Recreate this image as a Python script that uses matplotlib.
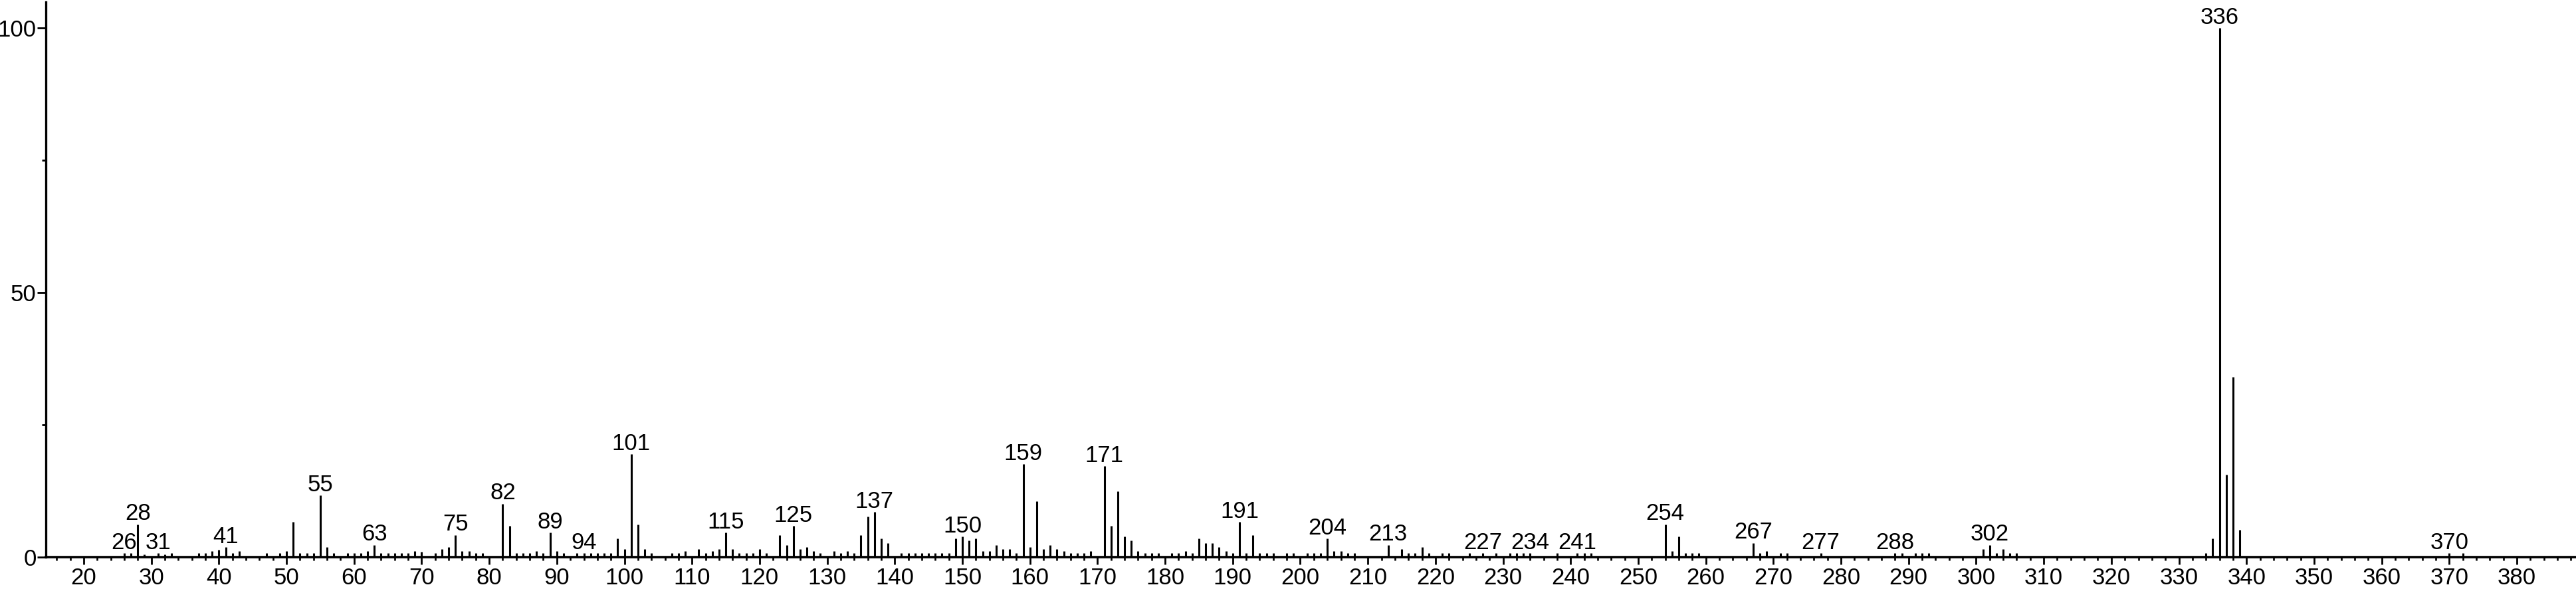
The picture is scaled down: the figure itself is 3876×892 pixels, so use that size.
import matplotlib
matplotlib.use("Agg")
import matplotlib.pyplot as plt
from matplotlib.ticker import MultipleLocator, FixedLocator

# ---- data ----
mz = [26, 27, 28, 29, 31, 32, 33, 37, 38, 39, 40, 41, 42, 43, 47, 49, 50, 51, 52, 53, 54, 55, 56, 57,
      59, 60, 61, 62, 63, 64, 65, 66, 67, 68, 69, 70, 72, 73, 74, 75, 76, 77, 78, 79, 82, 83, 84, 85,
      86, 87, 88, 89, 90, 91, 93, 94, 95, 96, 97, 98, 99, 100, 101, 102, 103, 104, 107, 108, 109, 111,
      112, 113, 114, 115, 116, 117, 118, 119, 120, 121, 123, 124, 125, 126, 127, 128, 129, 131, 132,
      133, 134, 135, 136, 137, 138, 139, 141, 142, 143, 144, 145, 146, 147, 148, 149, 150, 151, 152,
      153, 154, 155, 156, 157, 158, 159, 160, 161, 162, 163, 164, 165, 166, 167, 168, 169, 171, 172,
      173, 174, 175, 176, 177, 178, 179, 181, 182, 183, 184, 185, 186, 187, 188, 189, 190, 191, 192,
      193, 194, 195, 196, 198, 199, 201, 202, 203, 204, 205, 206, 207, 208, 213, 215, 216, 217, 218,
      219, 221, 222, 225, 227, 229, 231, 232, 233, 234, 238, 241, 242, 243, 254, 255, 256, 257, 258,
      259, 267, 268, 269, 271, 272, 277, 288, 289, 291, 292, 293, 301, 302, 303, 304, 305, 306, 334,
      335, 336, 337, 338, 339, 370, 372]
intensity = [0.7, 0.7, 6.2, 0.5, 0.7, 0.5, 0.7, 0.7, 0.7, 1.1, 1.4, 1.9, 0.7, 1.1, 0.7, 0.7, 1.1, 6.6,
             0.7, 0.7, 0.7, 11.7, 1.9, 0.7, 0.7, 0.7, 0.7, 1.1, 2.3, 0.7, 0.7, 0.7, 0.7, 0.7, 1.1, 1.0,
             0.7, 1.5, 1.9, 4.2, 1.1, 1.1, 0.7, 0.7, 10.1, 5.9, 0.7, 0.7, 0.7, 1.1, 0.7, 4.6, 1.1, 0.7,
             0.7, 0.7, 0.7, 0.7, 0.7, 0.7, 3.5, 1.5, 19.5, 6.2, 1.5, 0.7, 0.7, 0.7, 1.1, 1.5, 0.7, 1.1,
             1.5, 4.6, 1.5, 0.7, 0.7, 0.7, 1.5, 0.7, 4.2, 2.3, 5.9, 1.5, 1.9, 1.1, 0.7, 1.1, 0.7, 1.1,
             0.7, 4.2, 7.7, 8.5, 3.5, 2.7, 0.7, 0.7, 0.7, 0.7, 0.7, 0.7, 0.7, 0.7, 3.5, 3.9, 3.1, 3.5,
             1.1, 1.1, 2.3, 1.5, 1.5, 0.7, 17.6, 1.9, 10.6, 1.5, 2.3, 1.5, 1.1, 0.7, 0.7, 0.7, 1.1,
             17.2, 5.9, 12.5, 3.9, 3.1, 1.1, 0.7, 0.7, 0.7, 0.7, 0.7, 1.1, 0.7, 3.5, 2.7, 2.7, 1.9, 1.1,
             0.7, 6.6, 0.7, 4.2, 0.7, 0.7, 0.7, 0.7, 0.7, 0.7, 0.7, 0.7, 3.5, 1.1, 1.1, 0.7, 0.7, 2.3,
             1.5, 0.7, 0.7, 1.9, 0.7, 0.7, 0.7, 0.7, 0.7, 0.7, 0.7, 0.7, 0.7, 0.7, 0.7, 0.7, 0.7, 0.7,
             6.2, 1.1, 3.9, 0.7, 0.7, 0.7, 2.7, 0.7, 1.1, 0.7, 0.7, 0.7, 0.7, 0.7, 0.7, 0.7, 0.7, 1.5,
             2.3, 0.7, 1.5, 0.7, 0.7, 0.7, 3.5, 100.0, 15.6, 34.1, 5.1, 0.7, 0.7]
labeled_mz = [26, 28, 31, 41, 55, 63, 75, 82, 89, 94, 101, 115, 125, 137, 150, 159, 171, 191, 204,
              213, 227, 234, 241, 254, 267, 277, 288, 302, 336, 370]
x_ticks = list(range(20, 381, 10))
y_ticks = [0, 50, 100]

plt.rcParams["font.family"] = ["Liberation Sans", "DejaVu Sans"]
FS = 25

W, H = 3876, 892
fig = plt.figure(figsize=(W / 100, H / 100), dpi=100)
ax = fig.add_axes([69 / W, (H - 838) / H, 1 - 69 / W, (838 - 3) / H])

ax.vlines(mz, 0, intensity, colors="black", linewidth=2.2)

lookup = dict(zip(mz, intensity))
for m in labeled_mz:
    ax.annotate(str(m), (m, lookup[m]), xytext=(0, 4.5), textcoords="offset points",
                ha="center", va="baseline", fontsize=FS, color="black")

ax.set_xlim(14.4, 388.75)
ax.set_ylim(0, 100 * 835 / 796)

ax.spines["top"].set_visible(False)
ax.spines["right"].set_visible(False)
ax.spines["left"].set_linewidth(2.4)
ax.spines["bottom"].set_linewidth(2.6)

ax.xaxis.set_major_locator(FixedLocator(x_ticks))
ax.xaxis.set_minor_locator(MultipleLocator(2))
ax.yaxis.set_major_locator(FixedLocator(y_ticks))
ax.yaxis.set_minor_locator(FixedLocator([25, 75]))

ax.tick_params(axis="x", which="major", direction="out", length=8, width=2.0,
               labelsize=FS, pad=3)
ax.tick_params(axis="x", which="minor", direction="out", length=3.8, width=1.9)
ax.tick_params(axis="y", which="major", direction="out", length=9.4, width=2.0,
               labelsize=FS, pad=1)
ax.tick_params(axis="y", which="minor", direction="out", length=4.5, width=2.0)

fig.savefig("out.png", dpi=100, facecolor="white")
